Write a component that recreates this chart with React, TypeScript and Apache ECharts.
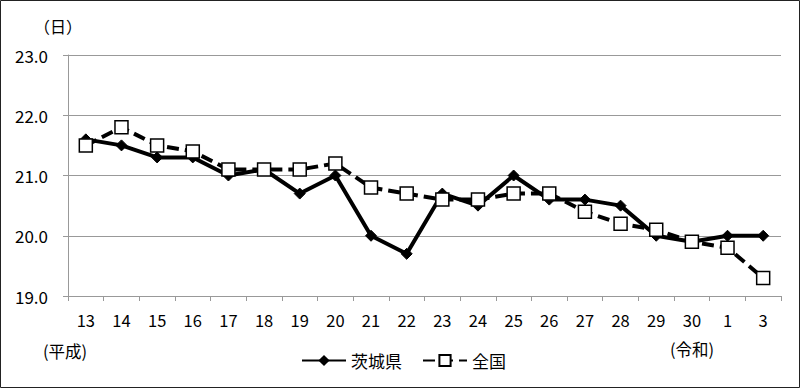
import React, { useEffect, useRef } from "react";
import * as echarts from "echarts";

const categories = ["13","14","15","16","17","18","19","20","21","22","23","24","25","26","27","28","29","30","1","3"];
const ibaraki = [21.6,21.5,21.3,21.3,21.0,21.1,20.7,21.0,20.0,19.7,20.7,20.5,21.0,20.6,20.6,20.5,20.0,19.9,20.0,20.0];
const zenkoku = [21.5,21.8,21.5,21.4,21.1,21.1,21.1,21.2,20.8,20.7,20.6,20.6,20.7,20.7,20.4,20.2,20.1,19.9,19.8,19.3];
const seriesNames = ["茨城県", "全国"];

const FONT = "'Noto Sans CJK JP', 'Noto Sans', sans-serif";

export default function App() {
  const ref = useRef<HTMLDivElement>(null);
  useEffect(() => {
    if (!ref.current) return;
    const chart = echarts.init(ref.current, null, { renderer: "svg" });
    chart.setOption({
      animation: false,
      backgroundColor: "#fff",
      textStyle: { fontFamily: FONT },
      grid: { left: 68, right: 19, top: 55, bottom: 92, containLabel: false },
      legend: {
        left: 296,
        top: 347,
        itemWidth: 44,
        itemHeight: 14,
        itemGap: 20,
        textStyle: { fontSize: 17, color: "#000", fontFamily: FONT },
        data: seriesNames,
      },
      xAxis: {
        type: "category",
        data: categories,
        boundaryGap: true,
        axisLine: { lineStyle: { color: "#999", width: 1 } },
        axisTick: { show: true, alignWithLabel: false, length: 5, lineStyle: { color: "#999" } },
        axisLabel: { fontSize: 16.5, color: "#000", margin: 16, fontFamily: FONT },
      },
      yAxis: {
        type: "value",
        min: 19,
        max: 23,
        interval: 1,
        axisLine: { show: true, lineStyle: { color: "#999", width: 1 } },
        axisTick: { show: true, length: 5, inside: false, lineStyle: { color: "#999" } },
        splitLine: { lineStyle: { color: "#999", width: 1 } },
        axisLabel: { fontSize: 17, color: "#000", margin: 20, fontFamily: FONT, formatter: (v: number) => v.toFixed(1) },
      },
      series: [
        {
          name: seriesNames[0],
          type: "line",
          data: ibaraki,
          symbol: "diamond",
          symbolSize: 11,
          lineStyle: { color: "#000", width: 4 },
          itemStyle: { color: "#000", borderColor: "#000" },
          z: 2,
        },
        {
          name: seriesNames[1],
          type: "line",
          data: zenkoku,
          symbol: "rect",
          symbolSize: 13,
          lineStyle: { color: "#000", width: 4, type: [12, 6] },
          itemStyle: { color: "#fff", borderColor: "#000", borderWidth: 1.5 },
          z: 3,
        },
      ],
      graphic: [
        { type: "rect", shape: { x: 0.5, y: 0.5, width: 799, height: 387 }, style: { fill: "none", stroke: "#222", lineWidth: 1 }, silent: true },
        { type: "text", left: 34, top: 18, style: { text: "（日）", fontSize: 16, fill: "#000", fontFamily: FONT } },
        { type: "text", left: 43, top: 343, style: { text: "(平成)", fontSize: 16.5, fill: "#000", fontFamily: FONT } },
        { type: "text", left: 670, top: 341, style: { text: "(令和)", fontSize: 16.5, fill: "#000", fontFamily: FONT } },
      ],
    });
    return () => chart.dispose();
  }, []);
  return <div ref={ref} style={{ position: "fixed", left: 0, top: 0, width: 800, height: 388 }} />;
}
